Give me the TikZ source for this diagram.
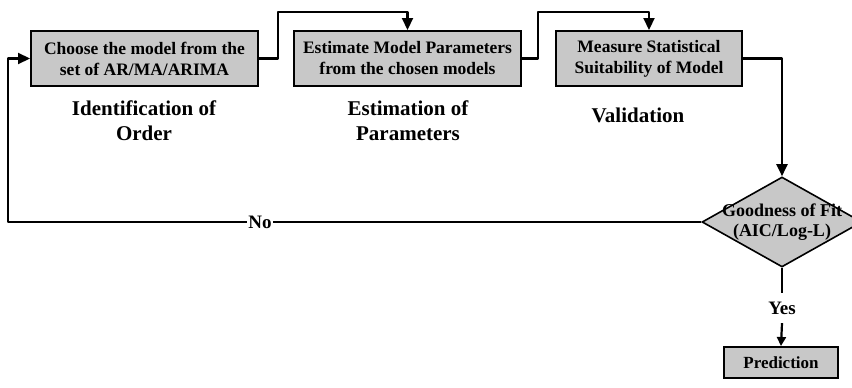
\documentclass[tikz,border=0pt]{standalone}
\usepackage{fontspec}
\setmainfont{Liberation Serif}
\usetikzlibrary{shapes.geometric,arrows.meta}
\definecolor{boxgray}{HTML}{C8C8C8}

\begin{document}
\begin{tikzpicture}[x=1pt,y=-1pt,
  procbox/.style={draw=black, line width=2pt, fill=boxgray, align=center,
    inner sep=0pt, font=\fontsize{17.5}{21}\selectfont\bfseries},
  decision/.style={draw=black, line width=1.6pt, fill=boxgray, diamond,
    inner sep=0pt, minimum width=160pt, minimum height=90pt},
  phase/.style={align=center, font=\fontsize{21}{25}\selectfont\bfseries},
  flow/.style={line width=2.2pt, line join=round},
  flowarrow/.style={flow, -{Triangle[length=12pt,width=11pt]}},
  answer/.style={fill=white, inner sep=1.5pt, font=\fontsize{19}{22}\selectfont\bfseries}]
\useasboundingbox (0,0) rectangle (852,388);

% process steps
\node[procbox, minimum width=227pt, minimum height=55pt] (b1) at (144.5,58.5)
  {Choose the model from the\\set of AR/MA/ARIMA};
\node[procbox, minimum width=227pt, minimum height=55pt] (b2) at (407.5,58.5)
  {Estimate Model Parameters\\from the chosen models};
\node[procbox, minimum width=186pt, minimum height=55pt] (b3) at (649,58.5)
  {Measure Statistical\\Suitability of Model};

% phase captions
\node[phase] (l1) at (144,121) {Identification of\\Order};
\node[phase] (l2) at (408,121) {Estimation of\\Parameters};
\node[phase] (l3) at (638,115) {Validation};

% decision and result
\node[decision] (dia) at (782,222) {};
\node[align=center, font=\fontsize{18}{20}\selectfont\bfseries] (dtext) at (dia.center)
  {Goodness of Fit\\(AIC/Log-L)};
\node[procbox, minimum width=114pt, minimum height=31pt, font=\fontsize{17}{20}\selectfont\bfseries]
  (pred) at (781,362.5) {Prediction};

% routing corners
\coordinate (k1) at (278,12);
\coordinate (k2) at (538,12);
\coordinate (k3) at (8,58.5);

% connectors
\draw[flowarrow] (b1.east) -| (k1) -| (b2.north);
\draw[flowarrow] (b2.east) -| (k2) -| (b3.north);
\draw[flowarrow] (b3.east) -| (dia.north);
\draw[flowarrow] (dia.west) -| (k3) -- (b1.west);
\node[answer] (no) at (260,222) {No};
\node[answer, inner sep=0pt, minimum height=30pt] (yes) at (782,308) {Yes};
\draw[flow] (dia.south) -- (yes.north);
\draw[flow, -{Triangle[length=9pt,width=9pt]}] (yes.south) -- (pred.north);
\end{tikzpicture}
\end{document}
